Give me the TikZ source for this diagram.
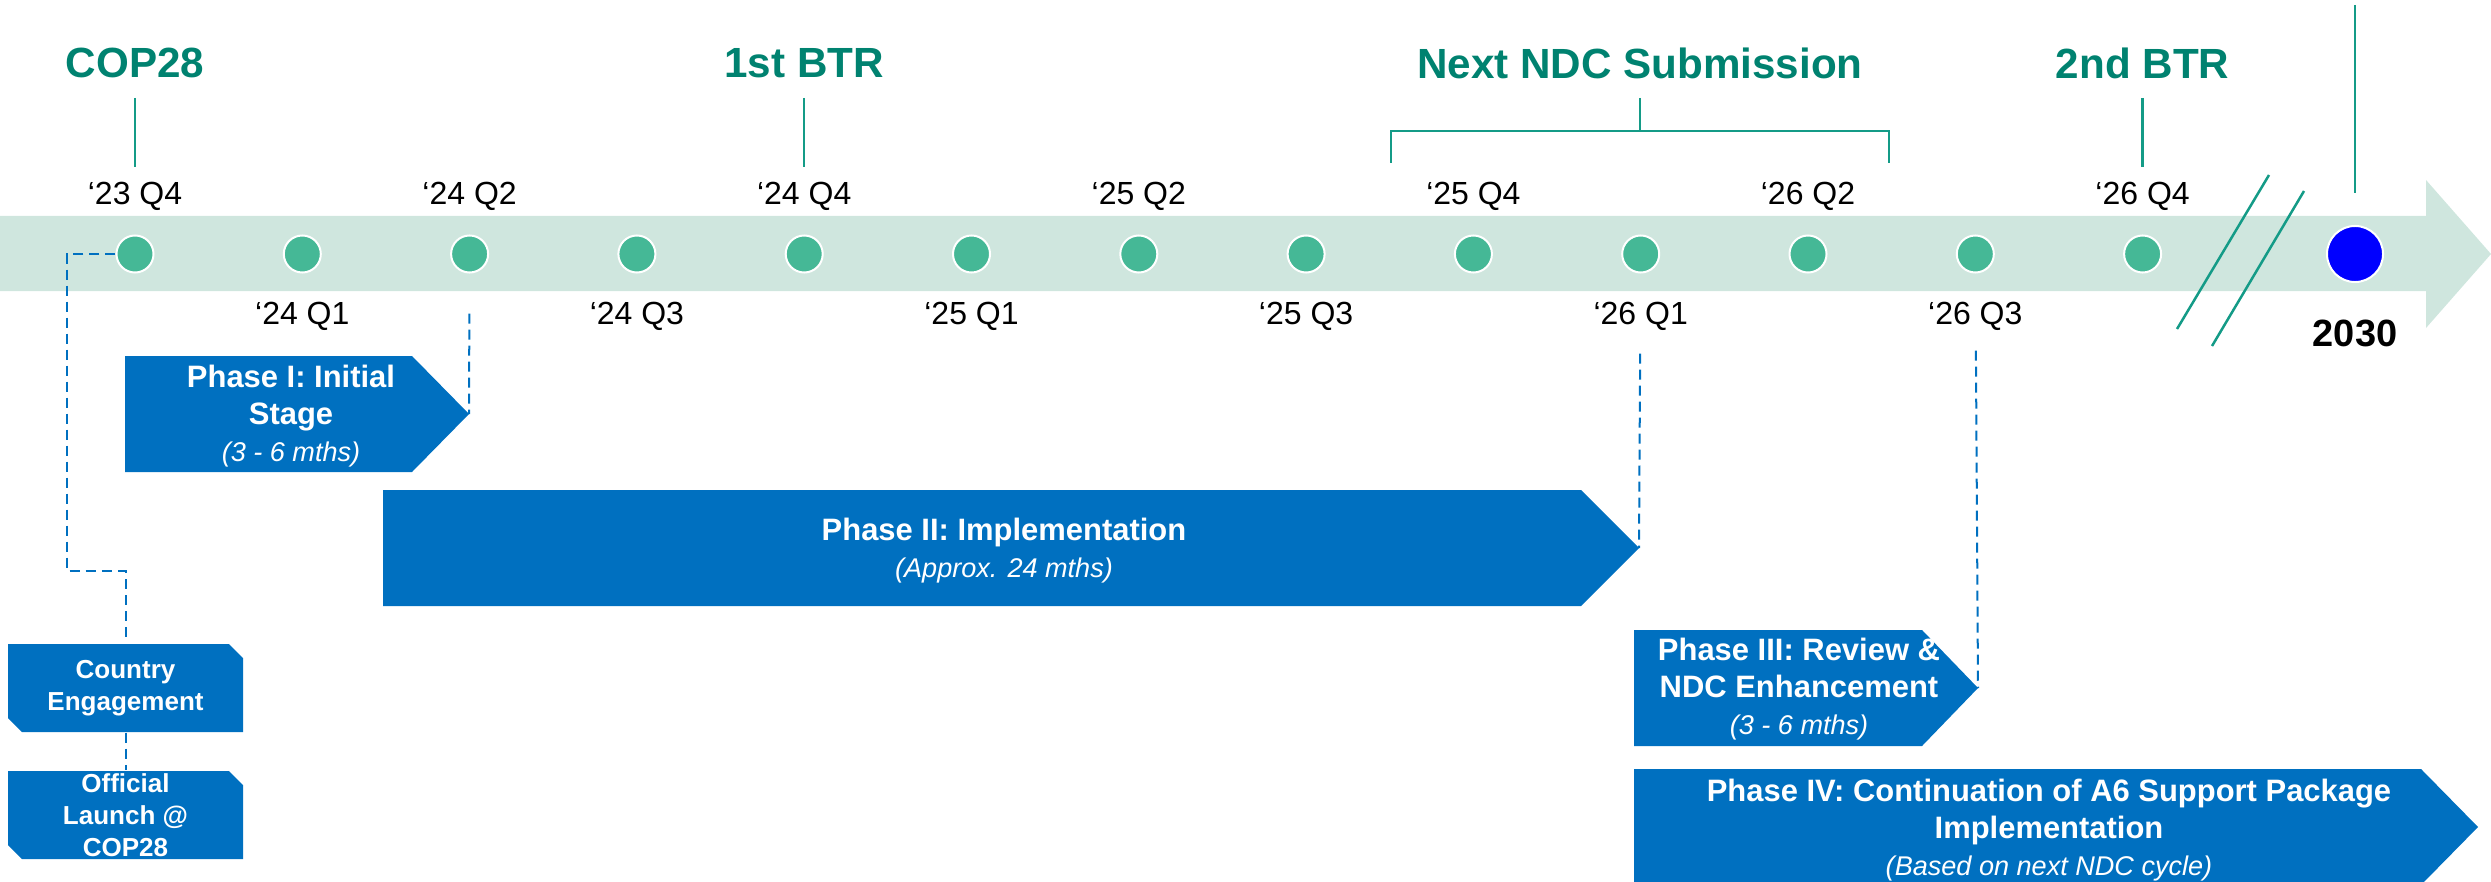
\documentclass[tikz,border=0pt]{standalone}
\usepackage{fontspec}
\setmainfont{Liberation Sans}
\definecolor{bandgreen}{RGB}{207,230,222}
\definecolor{dotgreen}{RGB}{69,184,150}
\definecolor{milegreen}{RGB}{0,130,112}
\definecolor{tickgreen}{RGB}{20,155,135}
\definecolor{phaseblue}{RGB}{0,112,192}
\definecolor{yearblue}{RGB}{0,0,255}
\newcommand{\mths}[1]{{\mdseries\itshape\fontsize{7.7}{9}\selectfont #1}}
\begin{document}
\begin{tikzpicture}[x=0.01cm,y=-0.01cm,
  qdot/.style={circle, fill=dotgreen, draw=white, line width=0.02cm, minimum size=0.37cm, inner sep=0pt},
  qlabel/.style={anchor=base, font=\fontsize{9.1}{11}\selectfont},
  milestone/.style={text=milegreen, font=\fontsize{12}{14}\selectfont\bfseries},
  mtick/.style={draw=tickgreen, line width=0.025cm},
  phasetxt/.style={text=white, align=center, font=\fontsize{8.8}{10.5}\selectfont\bfseries},
  smalltxt/.style={text=white, align=center, font=\fontsize{7.4}{9.1}\selectfont\bfseries,
    minimum width=2.35cm, minimum height=0.88cm, inner sep=0pt},
  dashline/.style={draw=phaseblue, line width=0.02cm, dash pattern=on 0.1cm off 0.06cm}]
  \useasboundingbox (0,0) rectangle (2491,882);

%Tidslinje
  \fill[bandgreen] (0,216) -- (2426,216) -- (2426,180) -- (2491,254)
    -- (2426,328) -- (2426,291) -- (0,291) -- cycle;

%Kvartaler
  \node[qdot] (d0) at (135,254) {};
  \node[qdot] (d1) at (302.3,254) {};
  \node[qdot] (d2) at (469.6,254) {};
  \node[qdot] (d3) at (636.9,254) {};
  \node[qdot] (d4) at (804.2,254) {};
  \node[qdot] (d5) at (971.5,254) {};
  \node[qdot] (d6) at (1138.8,254) {};
  \node[qdot] (d7) at (1306.1,254) {};
  \node[qdot] (d8) at (1473.4,254) {};
  \node[qdot] (d9) at (1640.7,254) {};
  \node[qdot] (d10) at (1808,254) {};
  \node[qdot] (d11) at (1975.3,254) {};
  \node[qdot] (d12) at (2142.6,254) {};
  \node[circle, fill=yearblue, draw=white, line width=0.02cm, minimum size=0.56cm] (d2030) at (2355,254) {};

  \node[qlabel] (l0) at (135,205) {‘23 Q4};
  \node[qlabel] (l1) at (302.3,324) {‘24 Q1};
  \node[qlabel] (l2) at (469.6,205) {‘24 Q2};
  \node[qlabel] (l3) at (636.9,324) {‘24 Q3};
  \node[qlabel] (l4) at (804.2,205) {‘24 Q4};
  \node[qlabel] (l5) at (971.5,324) {‘25 Q1};
  \node[qlabel] (l6) at (1138.8,205) {‘25 Q2};
  \node[qlabel] (l7) at (1306.1,324) {‘25 Q3};
  \node[qlabel] (l8) at (1473.4,205) {‘25 Q4};
  \node[qlabel] (l9) at (1640.7,324) {‘26 Q1};
  \node[qlabel] (l10) at (1808,205) {‘26 Q2};
  \node[qlabel] (l11) at (1975.3,324) {‘26 Q3};
  \node[qlabel] (l12) at (2142.6,205) {‘26 Q4};
  \node[font=\fontsize{10.8}{13}\selectfont\bfseries] (l2030) at (2355,333) {2030};

%Milepaeler
  \node[milestone] (cop) at (135,63) {COP28};
  \node[milestone] (btr1) at (804.2,63) {1st BTR};
  \node[milestone] (ndc) at (1640,63) {Next NDC Submission};
  \node[milestone] (btr2) at (2142.6,63) {2nd BTR};

  \coordinate (k0a) at (135,98);    \coordinate (k0b) at (135,167);
  \coordinate (k4a) at (804.2,98);  \coordinate (k4b) at (804.2,167);
  \coordinate (k12a) at (2142.6,98); \coordinate (k12b) at (2142.6,167);
  \coordinate (ka) at (1640,98);    \coordinate (kb) at (1640,131);
  \coordinate (top2030) at (2355,5); \coordinate (end2030) at (2355,193);
  \path[mtick] (k0a) edge (k0b);
  \path[mtick] (k4a) edge (k4b);
  \path[mtick] (k12a) edge (k12b);
  \path[mtick] (ka) edge (kb);
  \path[mtick] (top2030) edge (end2030);
  \draw[mtick] (1391,163) -- (1391,131) -- (1889,131) -- (1889,163);

% brudd
  \draw[mtick] (2269,175) -- (2177,329);
  \draw[mtick] (2304,191) -- (2212,346);

%Faser
  \fill[phaseblue] (125,356) -- (412,356) -- (469,414) -- (412,472) -- (125,472) -- cycle;
  \fill[phaseblue] (383,490) -- (1581,490) -- (1639,548) -- (1581,606) -- (383,606) -- cycle;
  \fill[phaseblue] (1634,630) -- (1922,630) -- (1978,688) -- (1922,746) -- (1634,746) -- cycle;
  \fill[phaseblue] (1634,769) -- (2421,769) -- (2478,827) -- (2421,885) -- (1634,885) -- cycle;
  \fill[phaseblue] (8,644) -- (229,644) -- (243,658) -- (243,732) -- (22,732) -- (8,718) -- cycle;
  \fill[phaseblue] (8,771) -- (229,771) -- (243,785) -- (243,859) -- (22,859) -- (8,845) -- cycle;
  \coordinate (t1) at (469,414);
  \coordinate (t2) at (1639,548);
  \coordinate (t3) at (1978,688);
  \coordinate (c1) at (67,571);

  \node[phasetxt] (p1) at (291,416) {Phase I: Initial\\Stage\\\mths{(3 - 6 mths)}};
  \node[phasetxt] (p2) at (1004,551) {Phase II: Implementation\\\mths{(Approx. 24 mths)}};
  \node[phasetxt] (p3) at (1799,689) {Phase III: Review \&\\NDC Enhancement\\\mths{(3 - 6 mths)}};
  \node[phasetxt] (p4) at (2049,830) {Phase IV: Continuation of A6 Support Package\\Implementation\\\mths{(Based on next NDC cycle)}};
  \node[smalltxt] (ce) at (125.5,688) {Country\\Engagement};
  \node[smalltxt] (ol) at (125.5,815) {Official\\Launch @\\COP28};

%Stiplede linjer
  \draw[dashline] (d0.west) -| (c1) -| (ce.north);
  \draw[dashline] (ce.south) -- (ol.north);
  \draw[dashline, shorten <=0.4cm] (d2) -- (t1);
  \draw[dashline, shorten <=0.8cm] (d9) -- (t2);
  \draw[dashline, shorten <=0.77cm] (d11) -- (t3);

\end{tikzpicture}
\end{document}
